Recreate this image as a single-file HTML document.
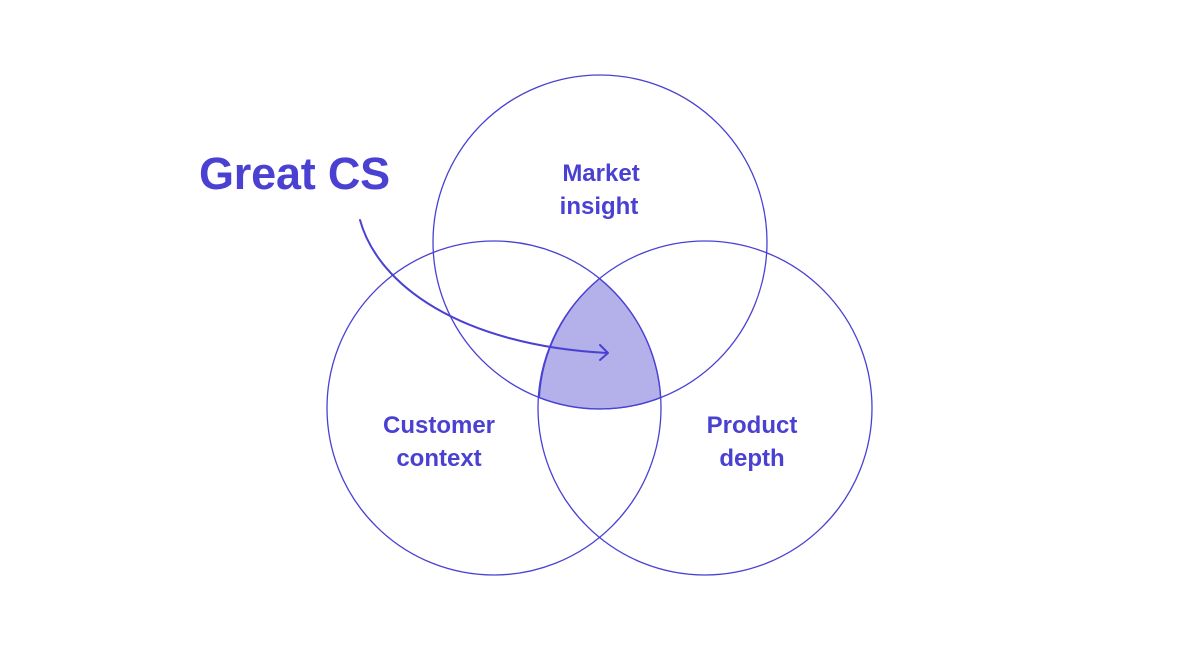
<!DOCTYPE html>
<html><head><meta charset="utf-8"><style>
html,body{margin:0;padding:0;background:#fff;}
svg{display:block}
text{font-family:"Liberation Sans",sans-serif;fill:#4a41d3;font-weight:bold}
</style></head><body>
<svg width="1200" height="650" viewBox="0 0 1200 650" xmlns="http://www.w3.org/2000/svg">
<rect width="1200" height="650" fill="#fff"/>
<path d="M599.5 278.5 A167 167 0 0 0 539.3 397.6 A167 167 0 0 0 660.7 397.6 A167 167 0 0 0 599.5 278.5 Z" fill="#b3b0ea" stroke="#4a41d3" stroke-width="1.3"/>
<g fill="none" stroke="#4a41d3" stroke-width="1.3">
<circle cx="600" cy="242" r="167"/>
<circle cx="494" cy="408" r="167"/>
<circle cx="705" cy="408" r="167"/>
</g>
<g fill="none" stroke="#4a41d3" stroke-width="2" stroke-linecap="round" stroke-linejoin="round">
<path d="M360 220 C 378 285, 460 345, 607 353"/>
<path d="M600 345 L608 353 L600 360"/>
</g>
<text x="199" y="189" font-size="45" letter-spacing="-0.2">Great CS</text>
<g font-size="24" text-anchor="middle">
<text x="601" y="181">Market</text>
<text x="599" y="214">insight</text>
<text x="439" y="433">Customer</text>
<text x="439" y="466">context</text>
<text x="752" y="433">Product</text>
<text x="752" y="466">depth</text>
</g>
</svg>
</body></html>
